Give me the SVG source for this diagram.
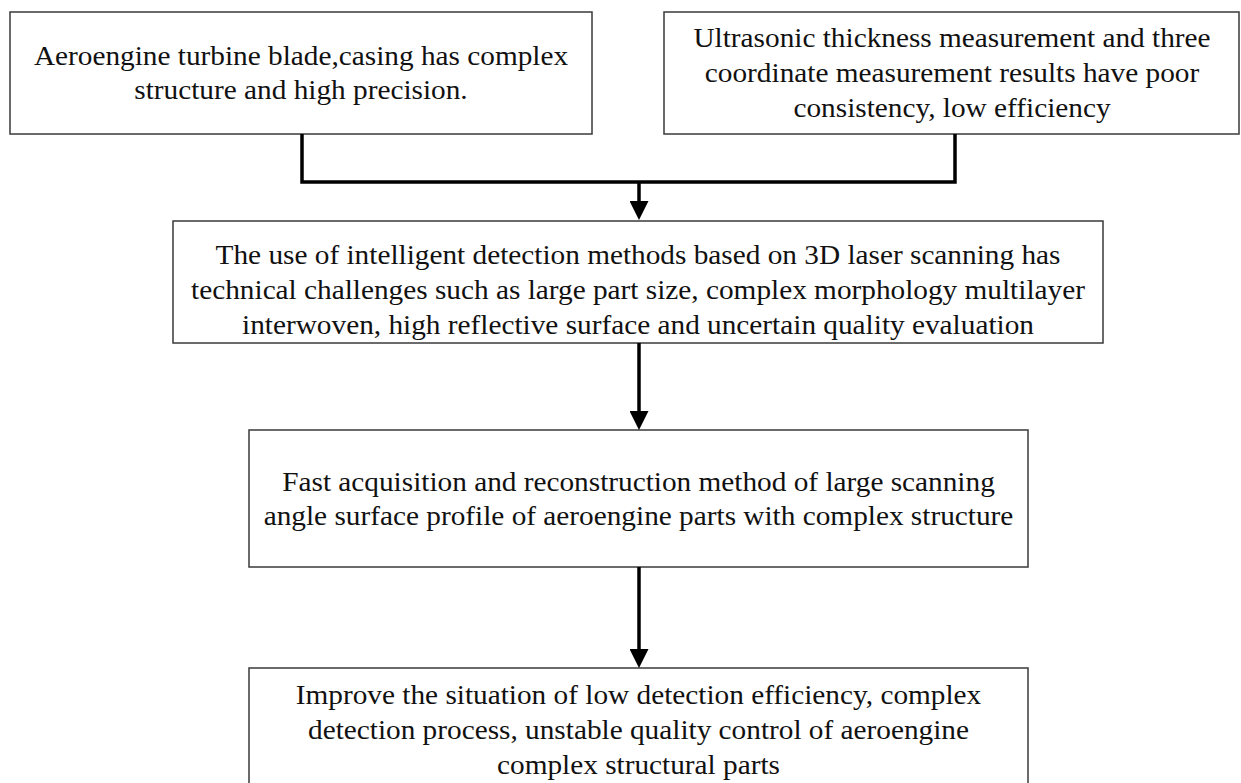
<svg xmlns="http://www.w3.org/2000/svg" width="1241" height="783" viewBox="0 0 1241 783">
<style>
.box{fill:#fff;stroke:#3a3a3a;stroke-width:1.5}
.t{font-family:"Liberation Serif","Times New Roman",serif;font-size:27px;fill:#111;text-anchor:middle}
.c{fill:none;stroke:#000;stroke-width:3.5}
</style>
<defs>
<marker id="ah" markerWidth="19" markerHeight="19" refX="4" refY="9.5" orient="auto" markerUnits="userSpaceOnUse">
<path d="M0,0 L19,9.5 L0,19 z" fill="#000"/>
</marker>
</defs>
<rect width="1241" height="783" fill="#fff"/>
<g id="n1">
<rect class="box" x="10" y="12" width="582" height="122"/>
<g transform="translate(301,0) scale(1.085,1)">
<text class="t" x="0" y="65">Aeroengine turbine blade,casing has complex</text>
<text class="t" x="0" y="99">structure and high precision.</text>
</g>
</g>
<g id="n2">
<rect class="box" x="664" y="12" width="575" height="122"/>
<g transform="translate(952,0) scale(1.085,1)">
<text class="t" x="0" y="47">Ultrasonic thickness measurement and three</text>
<text class="t" x="0" y="82">coordinate measurement results have poor</text>
<text class="t" x="0" y="117">consistency, low efficiency</text>
</g>
</g>
<g id="n3">
<rect class="box" x="173" y="221" width="930" height="122"/>
<g transform="translate(638,0) scale(1.085,1)">
<text class="t" x="0" y="264">The use of intelligent detection methods based on 3D laser scanning has</text>
<text class="t" x="0" y="299">technical challenges such as large part size, complex morphology multilayer</text>
<text class="t" x="0" y="334">interwoven, high reflective surface and uncertain quality evaluation</text>
</g>
</g>
<g id="n4">
<rect class="box" x="249" y="430" width="779" height="137"/>
<g transform="translate(638.5,0) scale(1.085,1)">
<text class="t" x="0" y="491">Fast acquisition and reconstruction method of large scanning</text>
<text class="t" x="0" y="525">angle surface profile of aeroengine parts with complex structure</text>
</g>
</g>
<g id="n5">
<rect class="box" x="249" y="668" width="779" height="130"/>
<g transform="translate(638.5,0) scale(1.085,1)">
<text class="t" x="0" y="704">Improve the situation of low detection efficiency, complex</text>
<text class="t" x="0" y="739">detection process, unstable quality control of aeroengine</text>
<text class="t" x="0" y="774">complex structural parts</text>
</g>
</g>
<g id="connectors">
<path class="c" d="M302,134 V182 H955 V134"/>
<path class="c" d="M639,182 V205" marker-end="url(#ah)"/>
<path class="c" d="M639,343 V415" marker-end="url(#ah)"/>
<path class="c" d="M639,567 V653" marker-end="url(#ah)"/>
</g>
</svg>
